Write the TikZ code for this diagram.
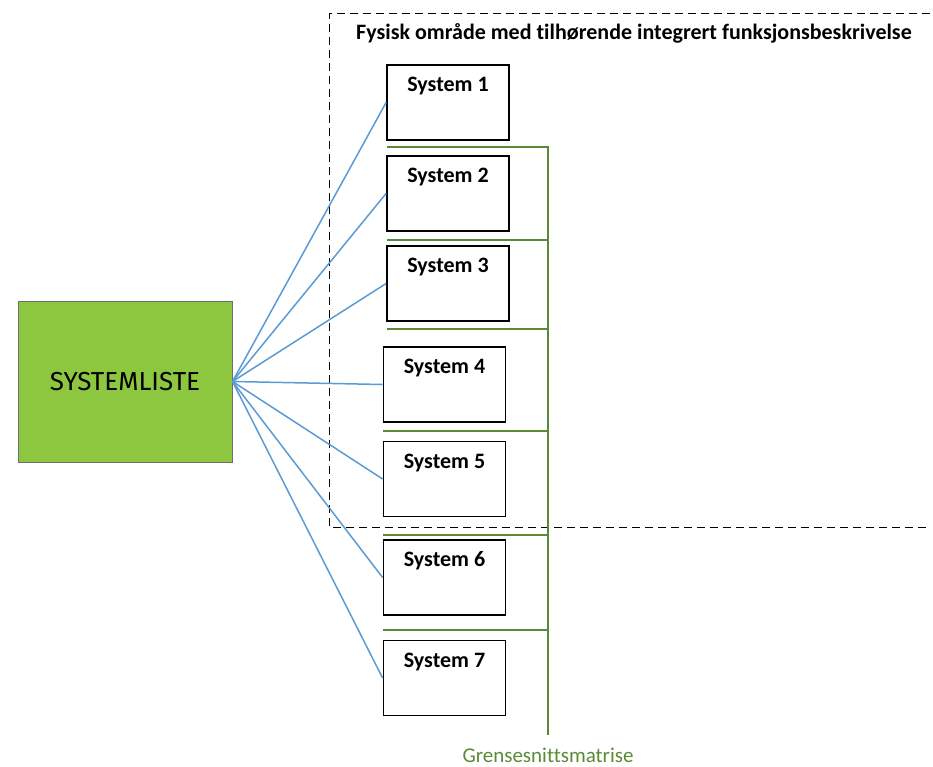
\documentclass[tikz,border=0pt]{standalone}
\usepackage{fontspec}
\setmainfont{Carlito}[Ligatures=NoCommon]
\newfontfamily\dinfont{Fira Sans}
\definecolor{lineblue}{HTML}{5B9BD5}
\definecolor{gline}{HTML}{5A8A35}
\definecolor{boxgreen}{HTML}{8DC63F}
\definecolor{boxgray}{HTML}{6E6E6E}
\begin{document}
\begin{tikzpicture}[x=1pt,y=-1pt,
  sysbox/.style={draw=black,line width=1.8pt,fill=white,minimum width=122pt,minimum height=75pt,inner sep=0pt},
  syslabel/.style={font=\fontsize{22}{24}\selectfont\bfseries,anchor=center,inner sep=0pt},
  conn/.style={draw=lineblue,line width=1.5pt},
  gl/.style={draw=gline,line width=1.5pt},
  frame/.style={draw=black,line width=1pt,dash pattern=on 8pt off 5pt}]
\useasboundingbox (0,0) rectangle (933,767);
% dashed area
\draw[frame] (930,14) -- (329,14) -- (329,527) -- (930,527);
\node[font=\fontsize{22}{24}\selectfont\bfseries] (title) at (634,33) {Fysisk område med tilhørende integrert funksjonsbeskrivelse};
% system list
\node[draw=boxgray,line width=1pt,fill=boxgreen,minimum width=214pt,minimum height=161pt,inner sep=0pt,font=\dinfont\fontsize{26}{28}\selectfont] (list) at (125,381.5) {SYSTEMLISTE};
% systems
\node[sysbox] (s1) at (448,102.5) {};
\node[sysbox] (s2) at (448,193.5) {};
\node[sysbox] (s3) at (448,283.5) {};
\node[sysbox] (s4) at (444.5,384.5) {};
\node[sysbox] (s5) at (444.5,479) {};
\node[sysbox] (s6) at (444.5,577.5) {};
\node[sysbox] (s7) at (444.5,678) {};
\foreach \i in {1,...,7}{
  \node[syslabel] (l\i) at ([yshift=-22pt]s\i.north) {System \i};
}
% connectors
\foreach \i in {1,...,7}{
  \draw[conn] (list.east) -- (s\i.west);
}
% interface matrix bracket
\coordinate (gtop) at (548,147);
\coordinate (gbot) at (548,735);
\draw[gl] (387,147) -- (gtop) -- (gbot);
\draw[gl] (387,240) -- (548,240);
\draw[gl] (387,329) -- (548,329);
\draw[gl] (383,431) -- (548,431);
\draw[gl] (383,535) -- (548,535);
\draw[gl] (383,630) -- (548,630);
\node[text=gline,font=\fontsize{21}{23}\selectfont,inner sep=1pt] (gm) at (548,755) {Grensesnittsmatrise};
\end{tikzpicture}
\end{document}
